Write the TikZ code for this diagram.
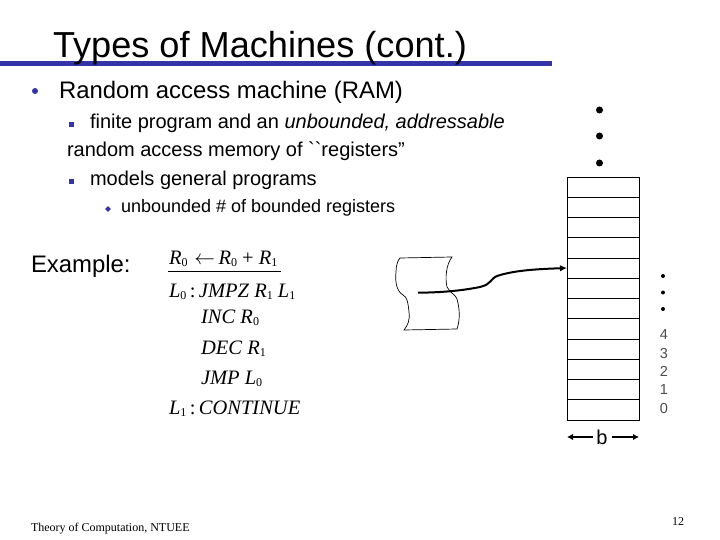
\documentclass[tikz,border=0pt]{standalone}
\usepackage{fontspec}
\usetikzlibrary{arrows.meta,shapes.geometric}
\setmainfont{Liberation Sans}
\newfontfamily\timesf{Liberation Serif}
\newfontfamily\rawf{Liberation Sans}
\definecolor{slateblue}{RGB}{51,51,170}
\newcommand{\fs}[1]{\fontsize{#1}{#1}\selectfont}
\newcommand{\Rz}[2]{{\itshape #1}\raisebox{-2pt}{\fs{12}#2}}
\tikzset{
  x=1pt,y=-1pt,
  txt/.style={anchor=base west,inner sep=0pt,outer sep=0pt},
  titletxt/.style={txt,font=\fs{36.15}},
  l1/.style={txt,font=\fs{23.9}},
  l2/.style={txt,font=\fs{20}},
  l3/.style={txt,font=\fs{18}},
  eq/.style={txt,font=\timesf\fs{20.5}},
  small/.style={anchor=base,inner sep=0pt,font=\fs{14.5},text=black!70},
  dotb/.style={circle,fill=black,inner sep=0pt,minimum size=#1},
  bluesq/.style={rectangle,fill=slateblue,inner sep=0pt,minimum size=5pt},
  cellline/.style={draw=black,line width=0.8pt},
  dimarrow/.style={-{Latex[length=6pt,width=6.5pt]},line width=2pt},
}
\begin{document}
\begin{tikzpicture}
\useasboundingbox (0,0) rectangle (720,540);
\fill[white] (0,0) rectangle (720,540);
% title rule
\fill[slateblue] (0,61.5) rectangle (552,65.7);
\node[titletxt] (title) at (53,58) {Types of Machines (cont.)};
% bullets
\node[circle,fill=slateblue,inner sep=0pt,minimum size=6pt] (b1) at (35,91) {};
\node[l1] (t1) at (59,99) {Random access machine (RAM)};
\node[bluesq] (b2) at (71,125) {};
\node[l2] (t2) at (90,129) {finite program and an \textit{unbounded, addressable}};
\node[l2] (t2b) at (67,157) {random access memory of {\rawf ``}registers”};
\node[bluesq] (b3) at (71,182) {};
\node[l2] (t3) at (90,186) {models general programs};
\node[diamond,fill=slateblue,inner sep=0pt,minimum size=6pt] (b4) at (108,209) {};
\node[l3] (t4) at (121,213) {unbounded \# of bounded registers};
\node[l1] (ex) at (31,272) {Example:};
% program
\node[eq] (e1) at (169,264) {\Rz{R}{0}\,\,$\leftarrow$\,\Rz{R}{0} + \Rz{R}{1}};
\coordinate (ruleA) at (168,271.5);
\coordinate (ruleB) at (281,271.5);
\draw[line width=0.8pt] (ruleA) -- (ruleB);
\node[eq] (e2) at (169,297) {\Rz{L}{0}\,:\,\textit{JMPZ} \Rz{R}{1} \Rz{L}{1}};
\node[eq] (e3) at (201,323) {\textit{INC} \Rz{R}{0}};
\node[eq] (e4) at (201,354) {\textit{DEC} \Rz{R}{1}};
\node[eq] (e5) at (201,384) {\textit{JMP} \Rz{L}{0}};
\node[eq] (e6) at (169,414) {\Rz{L}{1}\,:\,\textit{CONTINUE}};
% memory
\node[draw=black,line width=0.8pt,inner sep=0pt,minimum width=72pt,minimum height=243pt] (mem) at (603,298.5) {};
\foreach \yy in {197,217,237,258,278,298,318,339,359,379,399}
  \draw[cellline] (567,\yy) -- (639,\yy);
\node[dotb=7pt] (d1) at (599.5,110) {};
\node[dotb=7pt] (d2) at (599.5,136) {};
\node[dotb=7pt] (d3) at (599.5,163) {};
\node[dotb=4pt] (s1) at (663,276) {};
\node[dotb=4pt] (s2) at (663,292.5) {};
\node[dotb=4pt] (s3) at (663,309) {};
\node[small] (n4) at (664,339) {4};
\node[small] (n3) at (664,358) {3};
\node[small] (n2) at (664,376) {2};
\node[small] (n1) at (664,394) {1};
\node[small] (n0) at (664,413) {0};
% width label
\node[anchor=base,inner sep=0pt,font=\fs{20}] (b) at (602,444) {b};
\coordinate (bL) at (567,437);
\coordinate (bR) at (639,437);
\draw[dimarrow] (593,437) -- (bL);
\draw[dimarrow] (612,437) -- (bR);
% scroll
\draw[line width=0.7pt] (400,258) -- (452,257)
  .. controls (446,265) and (445,278) .. (447,287)
  .. controls (450,293) and (456,295) .. (457,299)
  .. controls (460,310) and (460,320) .. (457,329)
  -- (404,330)
  .. controls (408,325) and (410,320) .. (409,312)
  .. controls (408,302) and (407,297) .. (403,295)
  .. controls (396,291) and (395,280) .. (396,272)
  .. controls (396,265) and (398,260) .. (400,258);
% pointer
\coordinate (pstart) at (418,292.7);
\coordinate (pend) at (567,268);
\draw[-{Latex[length=7pt,width=6.5pt]},line width=2pt] (pstart)
  .. controls (440,292.5) and (460,291) .. (480,287)
  .. controls (492,284) and (490,279) .. (497,276)
  .. controls (515,270) and (540,269) .. (pend);
% footer
\node[txt,font=\timesf\fs{12}] (foot) at (31,531) {Theory of Computation, NTUEE};
\node[txt,anchor=base east,font=\timesf\fs{12}] (page) at (684,525) {12};
\end{tikzpicture}
\end{document}
